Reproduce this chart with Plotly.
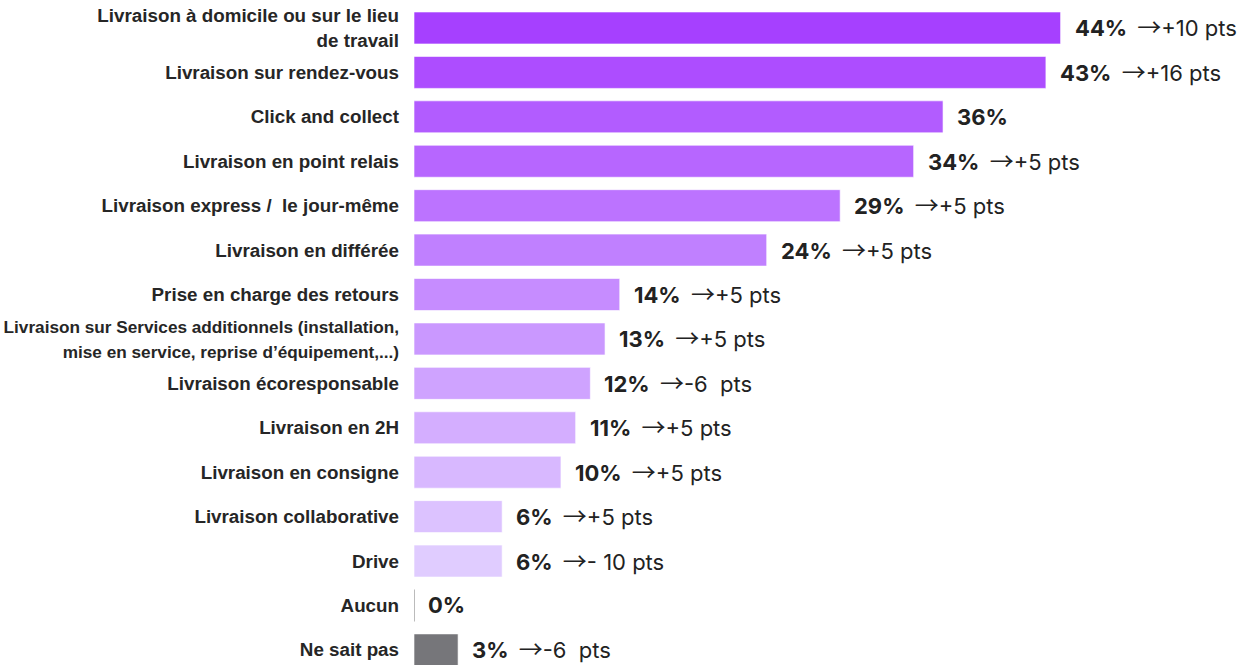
import plotly.graph_objects as go

categories = [
    "Livraison à domicile ou sur le lieu<br>de travail",
    "Livraison sur rendez-vous",
    "Click and collect",
    "Livraison en point relais",
    "Livraison express /  le jour-même",
    "Livraison en différée",
    "Prise en charge des retours",
    '<span style="font-size:17.2px">Livraison sur Services additionnels (installation,</span><br>'
    '<span style="font-size:17.2px">mise en service, reprise d’équipement,...)</span>',
    "Livraison écoresponsable",
    "Livraison en 2H",
    "Livraison en consigne",
    "Livraison collaborative",
    "Drive",
    "Aucun",
    "Ne sait pas",
]
values = [44, 43, 36, 34, 29, 24, 14, 13, 12, 11, 10, 6, 6, 0, 3]
changes = ["+10 pts", "+16 pts", "", "+5 pts", "+5 pts", "+5 pts", "+5 pts", "+5 pts",
           "-6  pts", "+5 pts", "+5 pts", "+5 pts", "- 10 pts", "", "-6  pts"]
colors = ["#A640FF", "#AD4DFF", "#B25CFF", "#B766FF", "#BC73FF", "#C080FF", "#C68CFF",
          "#CA98FF", "#CFA3FF", "#D4AEFF", "#D8B8FF", "#DCC2FF", "#E0CCFF", "#BBBBBB", "#76767A"]

pos = list(range(len(categories)))
bar_w = 0.72

fig = go.Figure()
fig.add_trace(go.Bar(
    x=values, y=pos, orientation="h", width=bar_w,
    marker=dict(color=colors, line=dict(color="rgba(255,255,255,0.6)", width=1)),
    hoverinfo="skip",
))
# thin line for zero-valued bar(s)
for p, v, c in zip(pos, values, colors):
    if v == 0:
        fig.add_trace(go.Scatter(x=[v, v], y=[p - bar_w / 2, p + bar_w / 2], mode="lines",
                                 line=dict(color=c, width=2), hoverinfo="skip"))

ARROW = '<span style="font-family:Noto Sans CJK JP;font-size:24px">→</span>'
for p, v, ch in zip(pos, values, changes):
    txt = f"<b>{v}%</b>" + (f" \u2009{ARROW}{ch}" if ch else "")
    fig.add_annotation(x=v, y=p, text=txt, showarrow=False, xanchor="left", yanchor="middle",
                       xshift=12, yshift=2 if ch else 0,
                       font=dict(family="Inter", size=22, color="#222222"))

fig.update_layout(
    width=1259, height=665,
    margin=dict(l=414, r=0, t=0, b=0),
    plot_bgcolor="white", paper_bgcolor="white",
    showlegend=False,
    bargap=0.28,
    xaxis=dict(range=[0, 57.5], visible=False),
    yaxis=dict(range=[14.34, -0.63], tickmode="array", tickvals=pos, ticktext=categories,
               showgrid=False, zeroline=False, showline=False, ticks="",
               ticklabelstandoff=14, automargin=False,
               tickfont=dict(family="Liberation Sans", size=18.8, color="#262626",
                             weight="bold")),
)

fig.write_html("out.html")
